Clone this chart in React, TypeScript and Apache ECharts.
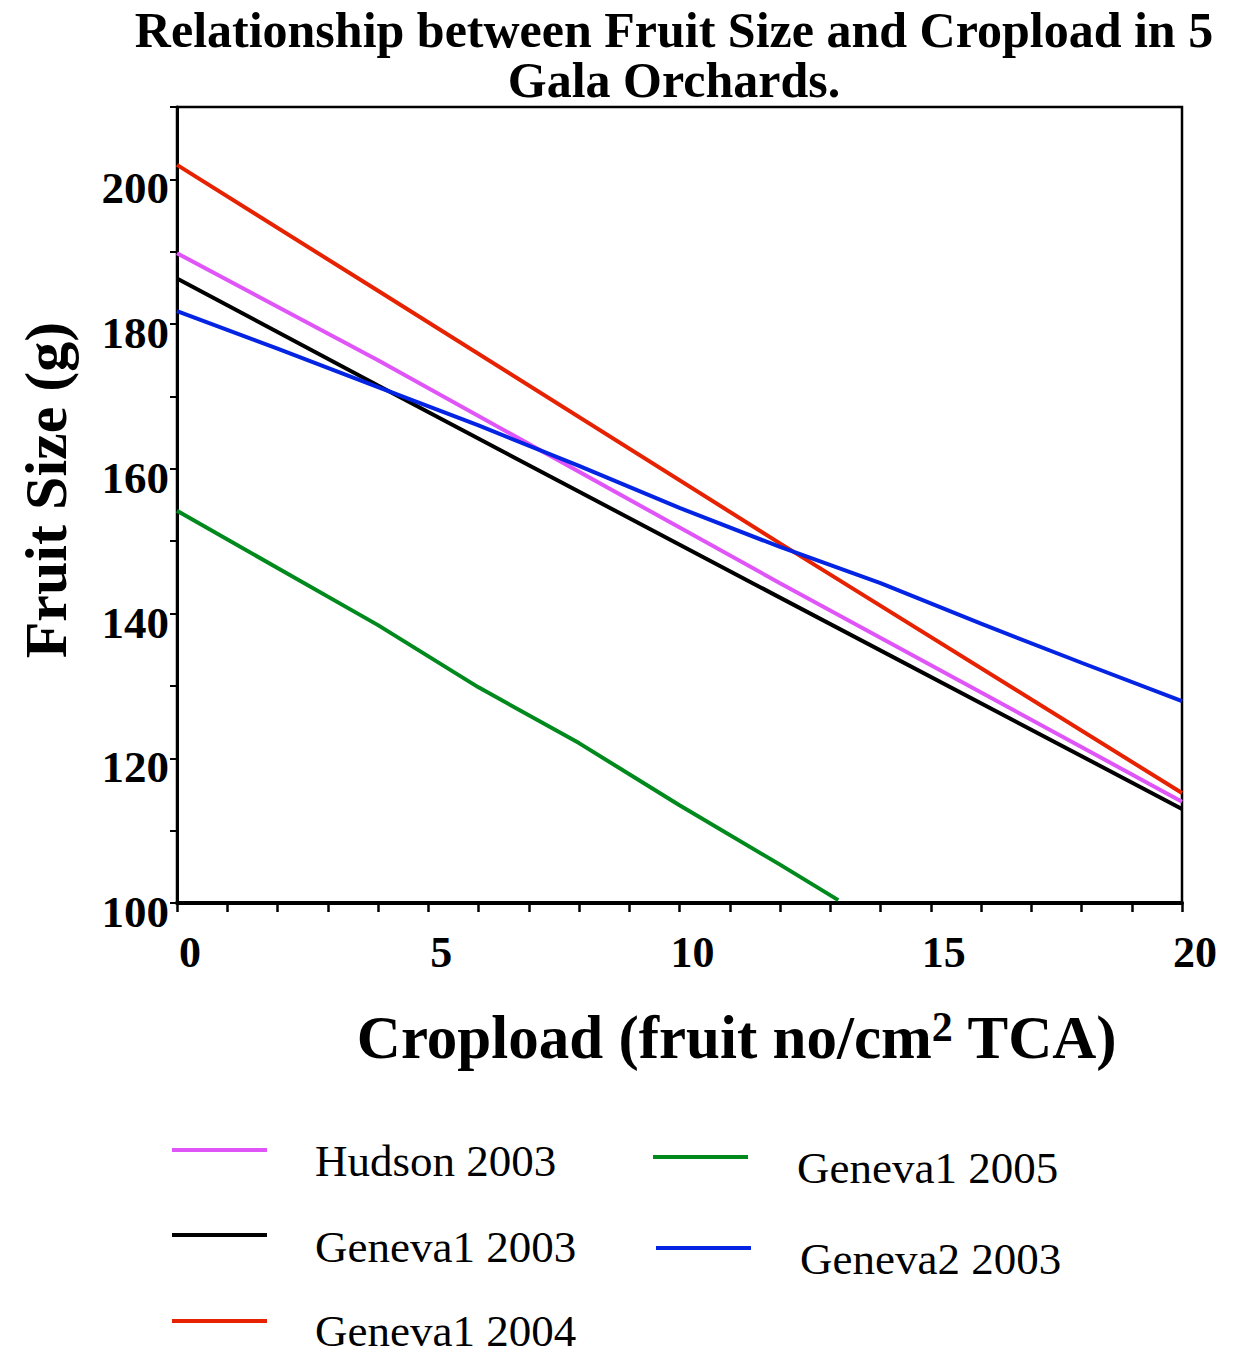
import React, { useEffect, useRef } from "react";
import * as echarts from "echarts";

const seriesNames = ["Hudson 2003", "Geneva1 2003", "Geneva1 2004", "Geneva1 2005", "Geneva2 2003"];
const seriesColors = ["#e055f7", "#000000", "#e62200", "#00891c", "#0424e4"];

const hudson2003X = [0, 4, 12, 20];
const hudson2003Y = [189.8, 175.0, 144.2, 114.0];

const geneva1_2003X = [0, 4, 12, 20];
const geneva1_2003Y = [186.3, 171.5, 142.2, 113.0];

const geneva1_2004X = [0, 4, 12, 20];
const geneva1_2004Y = [202.0, 184.6, 149.7, 115.2];

const geneva1_2005X = [0, 2, 4, 6, 8, 10, 12, 13.16];
const geneva1_2005Y = [154.2, 146.3, 138.4, 129.8, 122.1, 113.5, 105.3, 100.4];

const geneva2_2003X = [0, 2, 4, 6, 8, 10, 12, 14, 16, 18, 20];
const geneva2_2003Y = [181.8, 176.6, 171.3, 166.0, 160.4, 154.6, 149.2, 144.2, 138.6, 133.2, 127.9];

const seriesX = [hudson2003X, geneva1_2003X, geneva1_2004X, geneva1_2005X, geneva2_2003X];
const seriesY = [hudson2003Y, geneva1_2003Y, geneva1_2004Y, geneva1_2005Y, geneva2_2003Y];

const titleLines = ["Relationship between Fruit Size and Cropload in 5", "Gala Orchards."];
const yAxisTitle = "Fruit Size (g)";
const xAxisTitleMain = "Cropload (fruit no/cm";
const xAxisTitleSup = "2";
const xAxisTitleEnd = " TCA)";

const SERIF = '"Liberation Serif", "Times New Roman", serif';

// legend layout: [lineX, lineY, textX, textY]
const legendPos = [
  [172, 1150, 315, 1161],
  [172, 1235, 315, 1247],
  [172, 1321, 315, 1331],
  [653, 1157, 797, 1168],
  [656, 1248, 800, 1259],
];

export default function App() {
  const ref = useRef<HTMLDivElement>(null);
  useEffect(() => {
    if (!ref.current) return;
    const chart = echarts.init(ref.current, null, { renderer: "svg" });

    const series = seriesNames.map((name, i) => ({
      name,
      type: "line",
      data: seriesX[i].map((x, j) => [x, seriesY[i][j]]),
      showSymbol: false,
      symbol: "none",
      clip: false,
      lineStyle: { color: seriesColors[i], width: 4, cap: "butt" },
      itemStyle: { color: seriesColors[i] },
    }));

    const legendGraphics: any[] = [];
    seriesNames.forEach((name, i) => {
      const [lx, ly, tx, ty] = legendPos[i];
      legendGraphics.push({
        type: "line",
        shape: { x1: lx, y1: ly, x2: lx + 95, y2: ly },
        style: { stroke: seriesColors[i], lineWidth: 4 },
      });
      legendGraphics.push({
        type: "text",
        x: tx,
        y: ty,
        style: {
          text: name,
          font: `45px ${SERIF}`,
          lineHeight: 30,
          fill: "#000",
          align: "left",
          verticalAlign: "middle",
        },
      });
    });

    const titleGraphics = titleLines.map((t, i) => ({
      type: "text",
      x: 674,
      y: 30 + i * 50,
      style: {
        text: t,
        font: `bold 50px ${SERIF}`,
        lineHeight: 44,
        fill: "#000",
        align: "center",
        verticalAlign: "middle",
      },
    }));

    chart.setOption({
      animation: false,
      backgroundColor: "#ffffff",
      grid: {
        left: 177,
        right: 55,
        top: 107,
        bottom: 446,
        show: true,
        borderColor: "#000",
        borderWidth: 2.5,
        containLabel: false,
      },
      xAxis: {
        type: "value",
        min: 0,
        max: 20,
        interval: 1,
        axisLine: { show: true, onZero: false, lineStyle: { color: "#000", width: 4 } },
        axisTick: { show: true, length: 9, lineStyle: { color: "#000", width: 2.5 } },
        splitLine: { show: false },
        axisLabel: {
          margin: 27,
          color: "#000",
          fontFamily: SERIF,
          fontWeight: "bold",
          fontSize: 44,
          lineHeight: 44,
          padding: [0, 0, 0, 26],
          formatter: (v: number) => (v % 5 === 0 ? String(v) : ""),
        },
      },
      yAxis: {
        type: "value",
        min: 100,
        max: 210,
        interval: 10,
        axisLine: { show: true, onZero: false, lineStyle: { color: "#000", width: 3 } },
        axisTick: { show: true, length: 7, lineStyle: { color: "#000", width: 2 } },
        splitLine: { show: false },
        axisLabel: {
          margin: 8,
          color: "#000",
          fontFamily: SERIF,
          fontWeight: "bold",
          fontSize: 45,
          lineHeight: 18,
          verticalAlign: "top",
          formatter: (v: number) => (v % 20 === 0 ? String(v) : ""),
        },
      },
      series,
      graphic: [
        ...titleGraphics,
        {
          type: "text",
          x: 46,
          y: 490,
          rotation: Math.PI / 2,
          style: {
            text: yAxisTitle,
            font: `bold 60px ${SERIF}`,
            fill: "#000",
            align: "center",
            verticalAlign: "middle",
          },
        },
        {
          type: "text",
          x: 737,
          y: 1037,
          style: {
            text: `{a|${xAxisTitleMain}}{s|${xAxisTitleSup}}{a|${xAxisTitleEnd}}`,
            align: "center",
            verticalAlign: "middle",
            rich: {
              a: { fontFamily: SERIF, fontWeight: "bold", fontSize: 61, lineHeight: 62, fill: "#000", color: "#000" },
              s: { fontFamily: SERIF, fontWeight: "bold", fontSize: 42, lineHeight: 36, verticalAlign: "top", fill: "#000", color: "#000" },
            },
          },
        },
        ...legendGraphics,
      ],
    });

    return () => chart.dispose();
  }, []);

  return (
    <div
      ref={ref}
      style={{ position: "fixed", left: 0, top: 0, width: 1237, height: 1349, background: "#fff" }}
    />
  );
}
